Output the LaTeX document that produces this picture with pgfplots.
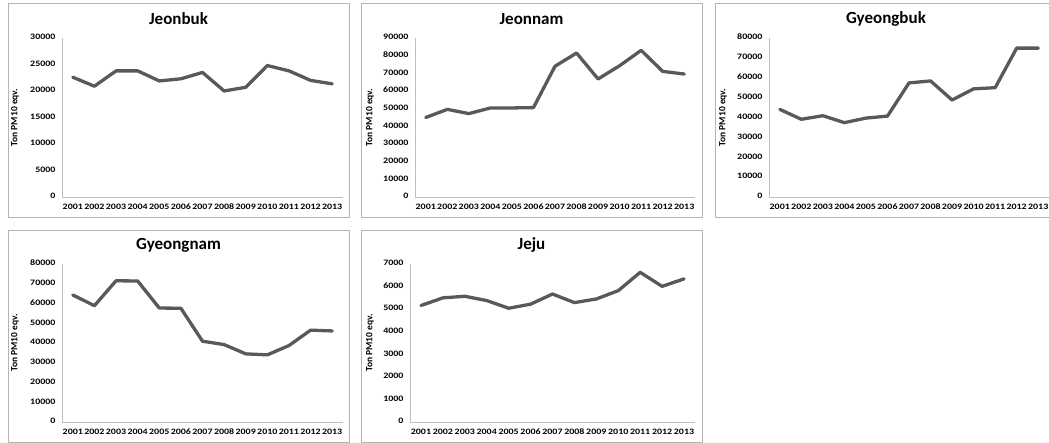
\documentclass[border=0pt]{standalone}
\usepackage{fontspec}
\setmainfont{Carlito}[Numbers=Lining]
\newfontfamily\tickfont{Carlito}[FakeStretch=1.2, Numbers=Lining]
\usepackage{pgfplots}
\pgfplotsset{compat=1.18}

\definecolor{linegray}{HTML}{595959}
\definecolor{axisgray}{HTML}{BFBFBF}
\definecolor{framegray}{HTML}{B4B4B4}

\tikzset{ttl/.style={font=\bfseries\fontsize{17}{20}\selectfont}}

\pgfplotsset{
  panel/.style={
    scale only axis,
    anchor=south west,
    xmin=2000.5, xmax=2013.5, ymin=0,
    axis x line*=bottom, axis y line*=left,
    axis line style={draw=axisgray, line width=0.9pt, -},
    xtick={2001,...,2013},
    major tick length=0pt,
    /pgf/number format/assume math mode=true,
    /pgf/number format/1000 sep={},
    scaled y ticks=false,
    typeset ticklabels with strut,
    tick label style={font=\tickfont\bfseries\fontsize{8.3}{9}\selectfont, text=black},
    yticklabel style={xshift=-3pt},
    xticklabel style={yshift=-3pt},
    ylabel={Ton PM10 eqv.},
    ylabel style={font=\bfseries\fontsize{9.5}{10}\selectfont,
      at={(axis description cs:0,0.5)}, anchor=center},
  },
  series/.style={draw=linegray, line width=3.3pt,
    line join=round, line cap=round, mark=none},
}

\begin{document}
\begin{tikzpicture}
\useasboundingbox (0pt,0pt) rectangle (1049pt,443pt);
\clip (0pt,0pt) rectangle (1049pt,443pt);

% chart frames
\begin{scope}[draw=framegray, line width=0.9pt]
  \draw (8pt,226pt) rectangle (349pt,440pt);
  \draw (361pt,226pt) rectangle (702pt,440pt);
  \draw (715pt,226pt) rectangle (1057pt,440pt);
  \draw (8pt,1pt) rectangle (349pt,213pt);
  \draw (361pt,1pt) rectangle (702pt,213pt);
\end{scope}

% titles
\node[ttl] at (178.5pt,424pt) {Jeonbuk};
\node[ttl] at (531.5pt,424pt) {Jeonnam};
\node[ttl] at (886pt,424pt) {Gyeongbuk};
\node[ttl] at (178.5pt,198pt) {Gyeongnam};
\node[ttl] at (531.5pt,198pt) {Jeju};

% Jeonbuk
\begin{axis}[panel, at={(62pt,246pt)}, width=281pt, height=159pt,
  ymax=30000, ytick distance=5000, ylabel style={yshift=47pt}]
\addplot[series] coordinates {(2001,22600) (2002,20900) (2003,23800) (2004,23800)
  (2005,21900) (2006,22300) (2007,23500) (2008,20000) (2009,20700)
  (2010,24800) (2011,23800) (2012,22000) (2013,21350)};
\end{axis}

% Jeonnam
\begin{axis}[panel, at={(415pt,246pt)}, width=280pt, height=159pt,
  ymax=90000, ytick distance=10000, ylabel style={yshift=45pt}]
\addplot[series] coordinates {(2001,45000) (2002,49600) (2003,47200) (2004,50400)
  (2005,50400) (2006,50600) (2007,74000) (2008,81500) (2009,66800)
  (2010,74300) (2011,83000) (2012,71100) (2013,69600)};
\end{axis}

% Gyeongbuk
\begin{axis}[panel, at={(769pt,246pt)}, width=280pt, height=159pt,
  ymax=80000, ytick distance=10000, ylabel style={yshift=46pt}]
\addplot[series] coordinates {(2001,44100) (2002,39100) (2003,40900) (2004,37400)
  (2005,39700) (2006,40700) (2007,57400) (2008,58400) (2009,48800)
  (2010,54400) (2011,55000) (2012,74900) (2013,74900)};
\end{axis}

% Gyeongnam
\begin{axis}[panel, at={(62pt,21pt)}, width=281pt, height=158pt,
  ymax=80000, ytick distance=10000, ylabel style={yshift=47pt}]
\addplot[series] coordinates {(2001,64300) (2002,58900) (2003,71500) (2004,71400)
  (2005,57700) (2006,57600) (2007,40900) (2008,39200) (2009,34500)
  (2010,34000) (2011,38700) (2012,46500) (2013,46100)};
\end{axis}

% Jeju
\begin{axis}[panel, at={(410pt,21pt)}, width=285pt, height=158pt,
  ymax=7000, ytick distance=1000, ylabel style={yshift=40pt}]
\addplot[series] coordinates {(2001,5160) (2002,5500) (2003,5570) (2004,5380)
  (2005,5040) (2006,5220) (2007,5670) (2008,5290) (2009,5450)
  (2010,5820) (2011,6630) (2012,6010) (2013,6340)};
\end{axis}
\end{tikzpicture}
\end{document}
